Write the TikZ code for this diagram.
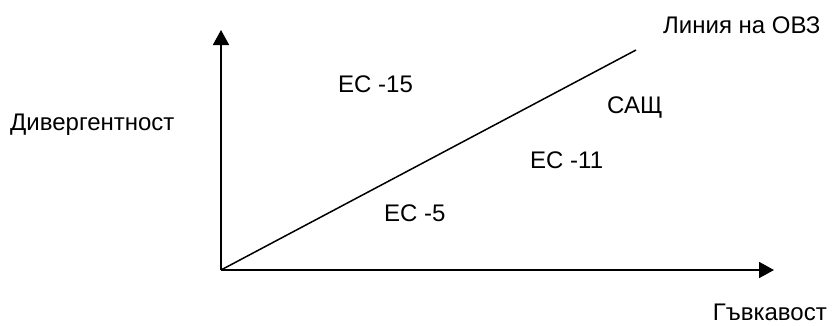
\documentclass[tikz,border=0pt]{standalone}
\usepackage{fontspec}
\setmainfont{Liberation Sans}
\usetikzlibrary{arrows.meta}
\begin{document}
\begin{tikzpicture}[x=1pt,y=-1pt,
  lbl/.style={font=\fontsize{24}{28}\selectfont, inner sep=0pt, anchor=base west},
  axis/.style={line width=1.8pt, -{Triangle[width=16pt,length=15pt]}},
  ovz/.style={line width=1.5pt}]
\useasboundingbox (0,0) rectangle (832,325);
\coordinate (O) at (221,270);
\coordinate (ytip) at (221,30);
\coordinate (xtip) at (774,270);
\coordinate (lend) at (636,50);
\draw[axis] (O) -- (ytip);
\draw[axis] (O) -- (xtip);
\draw[ovz] (O) -- (lend);
\node[lbl] (ovzl) at (663,33) {Линия на ОВЗ};
\node[lbl] (div) at (10,130) {Дивергентност};
\node[lbl] (ec15) at (338,92) {ЕС -15};
\node[lbl] (usa) at (607,113) {САЩ};
\node[lbl] (ec11) at (530,168) {ЕС -11};
\node[lbl] (ec5) at (384,221) {ЕС -5};
\node[lbl, anchor=base east] (gav) at (827,320) {Гъвкавост};
\end{tikzpicture}
\end{document}
